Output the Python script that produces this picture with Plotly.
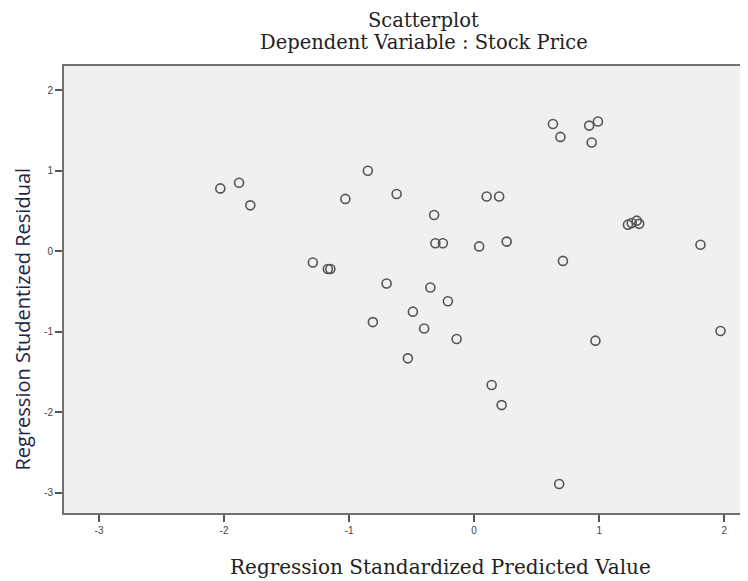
import plotly.graph_objects as go

pred = [-2.03, -1.88, -1.79, -1.29, -1.17, -1.15, -1.03, -0.85, -0.81, -0.70,
        -0.62, -0.53, -0.49, -0.40, -0.35, -0.32, -0.31, -0.25, -0.21, -0.14,
        0.04, 0.10, 0.14, 0.20, 0.22, 0.26, 0.63, 0.68, 0.69, 0.71,
        0.92, 0.94, 0.97, 0.99, 1.23, 1.26, 1.30, 1.32, 1.81, 1.97]
resid = [0.78, 0.85, 0.57, -0.14, -0.22, -0.22, 0.65, 1.00, -0.88, -0.40,
         0.71, -1.33, -0.75, -0.96, -0.45, 0.45, 0.10, 0.10, -0.62, -1.09,
         0.06, 0.68, -1.66, 0.68, -1.91, 0.12, 1.58, -2.89, 1.42, -0.12,
         1.56, 1.35, -1.11, 1.61, 0.33, 0.35, 0.38, 0.34, 0.08, -0.99]
x_ticks = [-3, -2, -1, 0, 1, 2]
y_ticks = [-3, -2, -1, 0, 1, 2]

fig = go.Figure()
fig.add_trace(go.Scatter(
    x=pred, y=resid, mode="markers",
    marker=dict(symbol="circle-open", size=9, color="#555555",
                line=dict(width=1.6, color="#555555")),
    showlegend=False, hoverinfo="skip"))

tickfont = dict(family="Liberation Sans, Arial", size=10, color="#444444")
serif = dict(family="DejaVu Serif", size=19.5, color="#222222")
fig.update_layout(
    width=740, height=573,
    margin=dict(l=56, r=0, t=58, b=68),
    paper_bgcolor="white", plot_bgcolor="#f0f0f0",
    xaxis=dict(range=[-3.28, 2.19], tickvals=x_ticks, ticktext=[str(v) for v in x_ticks],
               showgrid=False, zeroline=False, showline=True, linecolor="#707070",
               linewidth=2, mirror=True, ticks="outside", ticklen=7, tickwidth=1.5,
               tickcolor="#555555", tickfont=tickfont),
    yaxis=dict(range=[-3.25, 2.30], tickvals=y_ticks, ticktext=[str(v) for v in y_ticks],
               showgrid=False, zeroline=False, showline=True, linecolor="#707070",
               linewidth=2, ticks="outside", ticklen=7, tickwidth=1.5,
               tickcolor="#555555", tickfont=tickfont),
    annotations=[
        dict(text="Scatterplot", xref="paper", yref="paper",
             x=0.526, y=1.0, yshift=46, xanchor="center", yanchor="middle",
             showarrow=False, font=serif),
        dict(text="Dependent Variable : Stock Price", xref="paper", yref="paper",
             x=0.526, y=1.0, yshift=24, xanchor="center", yanchor="middle",
             showarrow=False, font=serif),
        dict(text="Regression Standardized Predicted Value", xref="paper", yref="paper",
             x=0.55, y=0, yshift=-54, xanchor="center", yanchor="middle", showarrow=False,
             font=dict(family="DejaVu Serif", size=20, color="#222222")),
        dict(text="Regression Studentized Residual", xref="paper", yref="paper",
             x=0, xshift=-42, y=0.5, yshift=-30, xanchor="center", yanchor="middle",
             textangle=-90, showarrow=False,
             font=dict(family="Open Sans", size=20, color="#222244")),
    ],
)
fig.write_html("out.html")
